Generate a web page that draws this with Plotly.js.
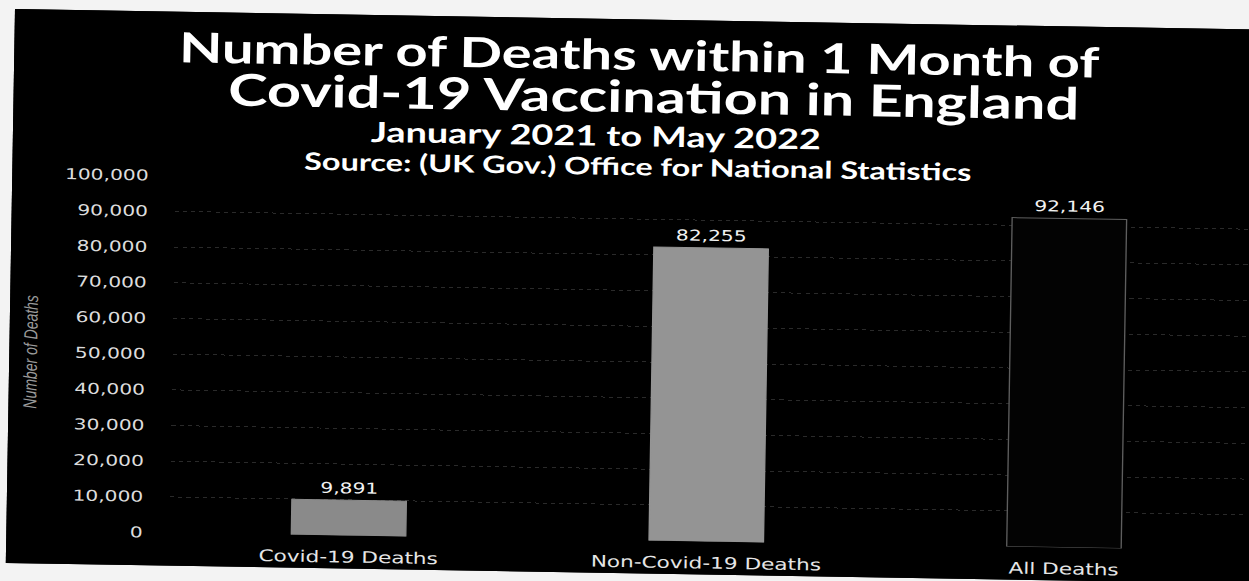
<!DOCTYPE html>
<html>
<head>
<meta charset="utf-8">
<script src="https://cdn.plot.ly/plotly-3.0.1.min.js"></script>
<style>
  html, body { margin: 0; padding: 0; width: 1249px; height: 581px; overflow: hidden; background: #f3f3f3; }
  /* the chart sheet sits slightly tilted and widened on the page */
  #chart {
    position: absolute; left: 15px; top: 9px;
    width: 934px; height: 554px;
    transform-origin: 0 0; transform: rotate(0.95deg) scaleX(1.35);
    background: #000;
  }
</style>
</head>
<body>
<div id="chart"></div>
<script>
// Deaths within one month of a Covid-19 vaccination, England, Jan 2021 - May 2022
const categories = ['Covid-19 Deaths', 'Non-Covid-19 Deaths', 'All Deaths'];
const deaths = [9891, 82255, 92146];
const barFill = ['#8a8a8a', '#949494', '#030303'];
const barEdge = ['#8a8a8a', '#949494', '#5e5e5e'];

const titleLines = [
  'Number of Deaths within 1 Month of',
  'Covid-19 Vaccination in England',
  'January 2021 to May 2022',
  'Source: (UK Gov.) Office for National Statistics'
];

const W = 934, H = 554;
const M = { l: 121, r: 18, t: 164, b: 33 };
const plotW = W - M.l - M.r;
const plotH = H - M.t - M.b;
// helpers: pixel offsets inside the sheet -> paper fractions
const px = u => (u - M.l) / plotW;
const py = v => (H - M.b - v) / plotH;

const trace = {
  type: 'bar',
  x: categories,
  y: deaths,
  marker: { color: barFill, line: { color: barEdge, width: 1 } },
  texttemplate: '%{y:,}',
  textposition: 'outside',
  cliponaxis: false,
  textfont: { family: 'DejaVu Sans', size: 15, color: '#f2f2f2' },
  hoverinfo: 'skip'
};

const headFont = size => ({ family: 'Lato', weight: 700, size: size, color: '#ffffff' });

const layout = {
  width: W,
  height: H,
  paper_bgcolor: '#000000',
  plot_bgcolor: '#000000',
  margin: M,
  showlegend: false,
  bargap: 0.68,
  title: {
    text: titleLines[0],
    x: 463 / W, xanchor: 'center',
    y: 1 - 36 / H, yanchor: 'middle',
    font: headFont(41.5)
  },
  annotations: [
    { text: titleLines[1], xref: 'paper', yref: 'paper',
      x: px(474), y: py(76), xanchor: 'center', yanchor: 'middle',
      showarrow: false, font: headFont(44) },
    { text: titleLines[2], xref: 'paper', yref: 'paper',
      x: px(432), y: py(116), xanchor: 'center', yanchor: 'middle',
      showarrow: false, font: headFont(28) },
    { text: titleLines[3], xref: 'paper', yref: 'paper',
      x: px(463), y: py(147), xanchor: 'center', yanchor: 'middle',
      showarrow: false, font: headFont(24) }
  ],
  xaxis: {
    type: 'category',
    showgrid: false, showline: false, zeroline: false, ticks: '',
    ticklabelstandoff: 10,
    tickfont: { family: 'DejaVu Sans', size: 16, color: '#e6e6e6' },
    fixedrange: true
  },
  yaxis: {
    range: [0, 100000],
    dtick: 10000,
    tickformat: ',',
    showline: false, zeroline: false, ticks: '',
    gridcolor: '#2a2a2a', griddash: 'dot', gridwidth: 1,
    ticklabelstandoff: 19,
    tickfont: { family: 'DejaVu Sans', size: 15, color: '#dcdcdc' },
    title: {
      text: 'Number of Deaths',
      standoff: 14,
      font: { family: 'Liberation Sans', size: 14, style: 'italic', color: '#9a9a9a' }
    },
    fixedrange: true
  }
};

Plotly.newPlot('chart', [trace], layout, { staticPlot: true, displayModeBar: false });
</script>
</body>
</html>
